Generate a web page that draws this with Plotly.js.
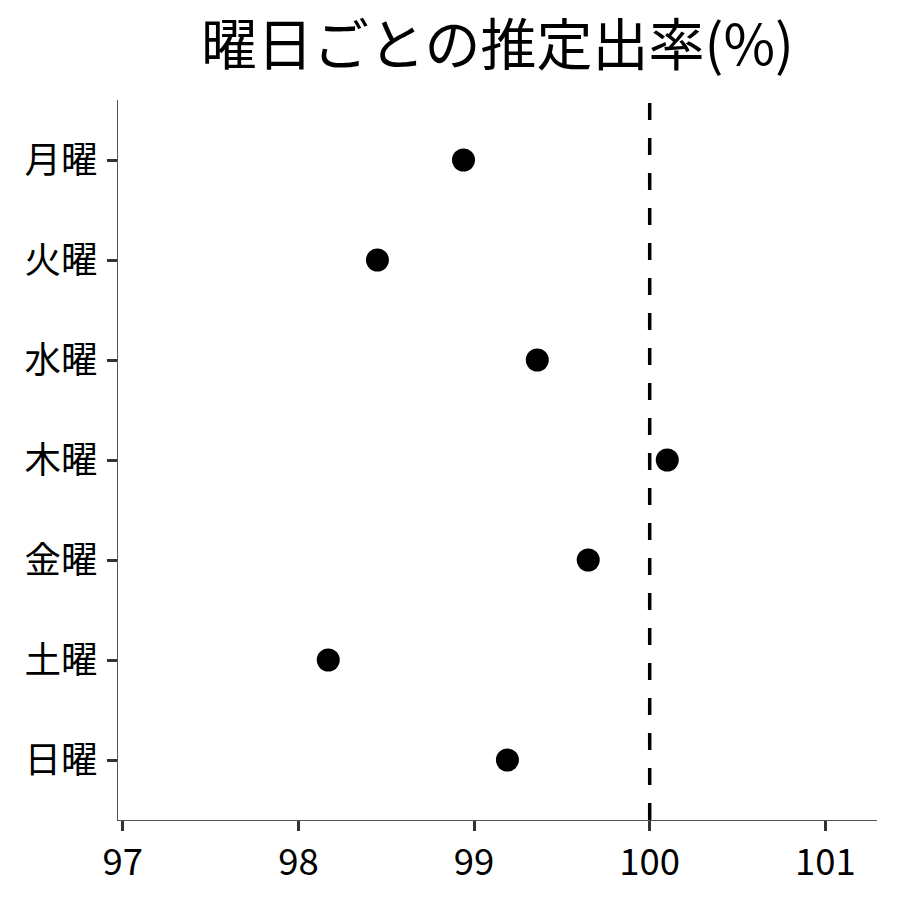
<!DOCTYPE html>
<html>
<head>
<meta charset="utf-8">
<script src="https://cdn.plot.ly/plotly-3.0.1.min.js"></script>
<style>body{margin:0;background:#fff}#chart{width:900px;height:900px}</style>
</head>
<body>
<div id="chart"></div>
<script>
  // 曜日ごとの推定出率
  const days = ['月曜', '火曜', '水曜', '木曜', '金曜', '土曜', '日曜'];
  const rates = [98.94, 98.45, 99.36, 100.10, 99.65, 98.17, 99.19];
  const refValue = 100;
  const xTicks = [97, 98, 99, 100, 101];

  const font = '"Noto Sans CJK JP", "Noto Sans", sans-serif';

  let trace = { x: rates, y: days, type: 'scatter', mode: 'markers',
                marker: { color: 'black', size: 23 }, hoverinfo: 'skip' };

  let layout = {
    width: 900, height: 900,
    margin: { l: 118, r: 23, t: 100, b: 80 },
    paper_bgcolor: 'white', plot_bgcolor: 'white',
    font: { family: font, color: 'black' },
    showlegend: false,
    title: { text: '曜日ごとの推定出率(%)', x: 0.5, xref: 'paper', y: 0.95, yanchor: 'middle',
             font: { size: 56, family: font, color: 'black' } },
    xaxis: { range: [96.973, 101.294], tickvals: xTicks, ticktext: xTicks.map(String),
             showgrid: false, zeroline: false, showline: true, linecolor: '#555', linewidth: 1.3,
             ticks: 'outside', ticklen: 10, tickwidth: 3, tickcolor: '#333',
             tickfont: { size: 36.5, family: font, color: 'black' } },
    yaxis: { type: 'category', categoryorder: 'array', categoryarray: days,
             range: [6.6, -0.6], showgrid: false, zeroline: false,
             showline: true, linecolor: '#555', linewidth: 1.3,
             ticks: 'outside', ticklen: 10, tickwidth: 3, tickcolor: '#333',
             ticklabelstandoff: 2,
             tickfont: { size: 36.5, family: font, color: 'black' } },
    shapes: [{ type: 'line', xref: 'x', yref: 'paper', x0: refValue, x1: refValue, y0: 0, y1: 1,
               line: { color: 'black', width: 3.5, dash: '17px,18px' } }]
  };

  Plotly.newPlot('chart', [trace], layout, { staticPlot: true });
</script>
</body>
</html>
